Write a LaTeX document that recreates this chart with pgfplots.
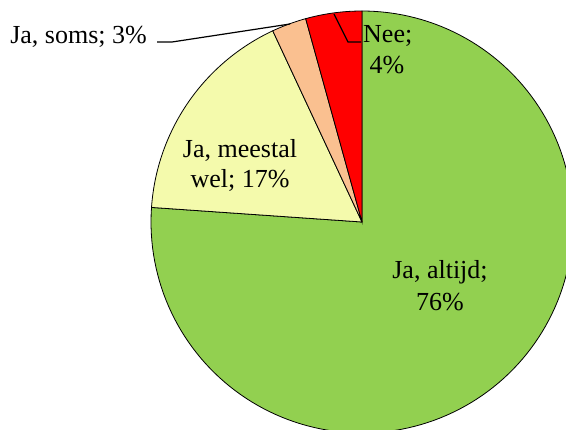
\documentclass[border=0pt]{standalone}
\usepackage{pgfplots}
\pgfplotsset{compat=1.18}
\usepackage{fontspec}
\setmainfont{Liberation Serif}
\definecolor{cAlt}{HTML}{92D050}
\definecolor{cMee}{HTML}{F4FAAC}
\definecolor{cSoms}{HTML}{FAC090}
\definecolor{cNee}{HTML}{FF0000}
% data (percentages)
\def\vAlt{76.1}
\def\vMee{16.95}
\def\vSoms{2.65}
\def\vNee{4.3}
\begin{document}
\fontsize{26bp}{31bp}\selectfont
\begin{tikzpicture}
\pgfmathsetmacro{\aA}{90}
\pgfmathsetmacro{\aB}{90-3.6*\vAlt}
\pgfmathsetmacro{\aC}{\aB-3.6*\vMee}
\pgfmathsetmacro{\aD}{\aC-3.6*\vSoms}
\pgfmathsetmacro{\aE}{\aD-3.6*\vNee}
\begin{axis}[width=566bp,height=430bp,scale only axis,
  xmin=0,xmax=566,ymin=0,ymax=430,hide axis,clip=true]
\path (axis cs:0,0) rectangle (axis cs:566,430);
\addplot[fill=cAlt,draw=black,line width=0.8bp,no markers,domain=\aB:\aA,samples=150]
  ({362+211*cos(x)},{208+211*sin(x)}) -- (axis cs:362,208) -- cycle;
\addplot[fill=cMee,draw=black,line width=0.8bp,no markers,domain=\aC:\aB,samples=60]
  ({362+211*cos(x)},{208+211*sin(x)}) -- (axis cs:362,208) -- cycle;
\addplot[fill=cSoms,draw=black,line width=0.8bp,no markers,domain=\aD:\aC,samples=20]
  ({362+211*cos(x)},{208+211*sin(x)}) -- (axis cs:362,208) -- cycle;
\addplot[fill=cNee,draw=black,line width=0.8bp,no markers,domain=\aE:\aD,samples=20]
  ({362+211*cos(x)},{208+211*sin(x)}) -- (axis cs:362,208) -- cycle;
% leader lines
\draw[line width=1.2bp] (axis cs:157,388) -- (axis cs:172,388) -- (axis cs:290,406);
\draw[line width=1.2bp] (axis cs:334,416) -- (axis cs:348,388) -- (axis cs:361,388);
% labels
\node[anchor=base east,inner sep=0pt] at (axis cs:147,387) {Ja, soms; 3\%};
\node[anchor=base west,inner sep=0pt] at (axis cs:363,388) {Nee;};
\node[anchor=base,inner sep=0pt] at (axis cs:387,357) {4\%};
\node[anchor=base,inner sep=0pt] at (axis cs:240,273) {Ja, meestal};
\node[anchor=base,inner sep=0pt] at (axis cs:240,243) {wel; 17\%};
\node[anchor=base,inner sep=0pt] at (axis cs:440,152) {Ja, altijd;};
\node[anchor=base,inner sep=0pt] at (axis cs:440,120) {76\%};
\end{axis}
\end{tikzpicture}
\end{document}
